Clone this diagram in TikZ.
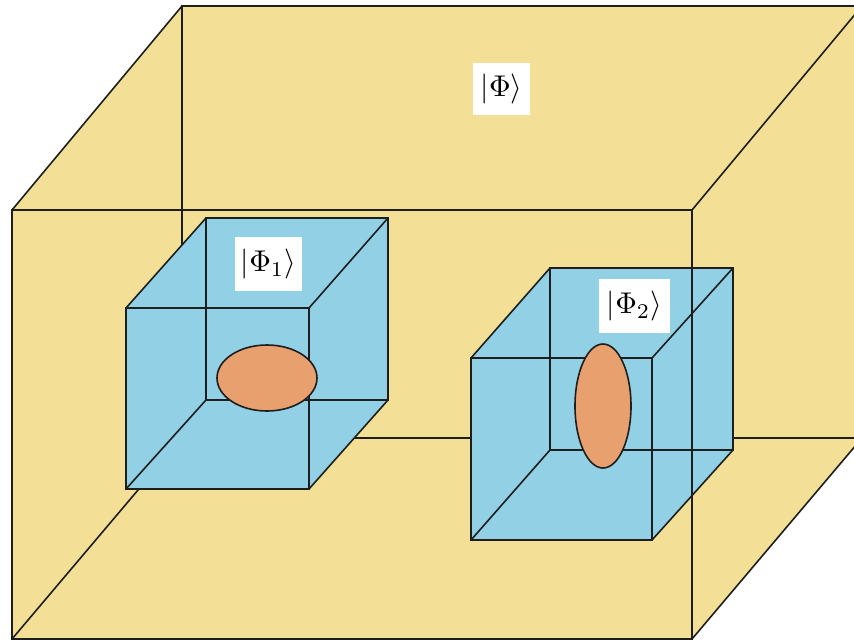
\documentclass[tikz,border=0pt]{standalone}
\usepackage{graphicx}
\definecolor{bigyellow}{RGB}{243,223,150}
\definecolor{cubeblue}{RGB}{146,208,230}
\definecolor{bloborange}{RGB}{232,160,110}
\definecolor{edgecol}{RGB}{30,30,30}
\newcommand{\ketbig}[1]{\scalebox{3.0}{$#1$}}
\begin{document}
\begin{tikzpicture}[x=1pt,y=-1pt,
  edgeline/.style={draw=edgecol,line width=1.6pt,line join=miter},
  blob/.style={draw=edgecol,line width=1.6pt,fill=bloborange},
  ketlabel/.style={fill=white,inner sep=0pt}]
\useasboundingbox (0,0) rectangle (854,643);
\clip (0,0) rectangle (854,643);
\fill[white] (0,0) rectangle (854,643);

% ---- large box ----
\coordinate (FTL) at (12,210);  \coordinate (FTR) at (692,210);
\coordinate (FBR) at (692,639); \coordinate (FBL) at (12,639);
\coordinate (BTL) at (182,6);   \coordinate (BTR) at (862,6);
\coordinate (BBR) at (862,438); \coordinate (BBL) at (182,438);
\fill[bigyellow] (FTL) -- (BTL) -- (BTR) -- (BBR) -- (FBR) -- (FBL) -- cycle;
\draw[edgeline] (BTL) -- (BTR) -- (BBR) -- (BBL) -- cycle;
\draw[edgeline] (FTL) -- (BTL);
\draw[edgeline] (FTR) -- (BTR);
\draw[edgeline] (FBR) -- (BBR);
\draw[edgeline] (FBL) -- (BBL);

% ---- cube 1 ----
\coordinate (aFTL) at (126,308); \coordinate (aFTR) at (309,308);
\coordinate (aFBR) at (309,489); \coordinate (aFBL) at (126,489);
\coordinate (aBTL) at (206,218); \coordinate (aBTR) at (388,218);
\coordinate (aBBR) at (388,400); \coordinate (aBBL) at (206,400);
\fill[cubeblue] (aFBL) -- (aFTL) -- (aBTL) -- (aBTR) -- (aBBR) -- (aFBR) -- cycle;
\draw[edgeline] (aBTL) -- (aBTR) -- (aBBR) -- (aBBL) -- cycle;
\draw[edgeline] (aFTL) -- (aFTR) -- (aFBR) -- (aFBL) -- cycle;
\draw[edgeline] (aFTL) -- (aBTL);
\draw[edgeline] (aFTR) -- (aBTR);
\draw[edgeline] (aFBR) -- (aBBR);
\draw[edgeline] (aFBL) -- (aBBL);
\draw[blob] (267,378) ellipse [x radius=50, y radius=33];

% ---- cube 2 ----
\coordinate (bFTL) at (471,358); \coordinate (bFTR) at (652,358);
\coordinate (bFBR) at (652,540); \coordinate (bFBL) at (471,540);
\coordinate (bBTL) at (550,268); \coordinate (bBTR) at (733,268);
\coordinate (bBBR) at (733,450); \coordinate (bBBL) at (550,450);
\fill[cubeblue] (bFBL) -- (bFTL) -- (bBTL) -- (bBTR) -- (bBBR) -- (bFBR) -- cycle;
\draw[edgeline] (bBTL) -- (bBTR) -- (bBBR) -- (bBBL) -- cycle;
\draw[edgeline] (bFTL) -- (bFTR) -- (bFBR) -- (bFBL) -- cycle;
\draw[edgeline] (bFTL) -- (bBTL);
\draw[edgeline] (bFTR) -- (bBTR);
\draw[edgeline] (bFBR) -- (bBBR);
\draw[edgeline] (bFBL) -- (bBBL);
\draw[blob] (603,406) ellipse [x radius=28, y radius=62];

% ---- front face of large box ----
\draw[edgeline] (FTL) -- (FTR) -- (FBR) -- (FBL) -- cycle;

% ---- labels ----
\node[ketlabel, minimum width=57, minimum height=52] (ketA) at (501.5,89) {\ketbig{|\Phi\rangle}};
\node[ketlabel, minimum width=67, minimum height=54] (ketB) at (268.5,264) {\ketbig{|\Phi_1\rangle}};
\node[ketlabel, minimum width=71, minimum height=54] (ketC) at (634.5,306) {\ketbig{|\Phi_2\rangle}};
\end{tikzpicture}
\end{document}
